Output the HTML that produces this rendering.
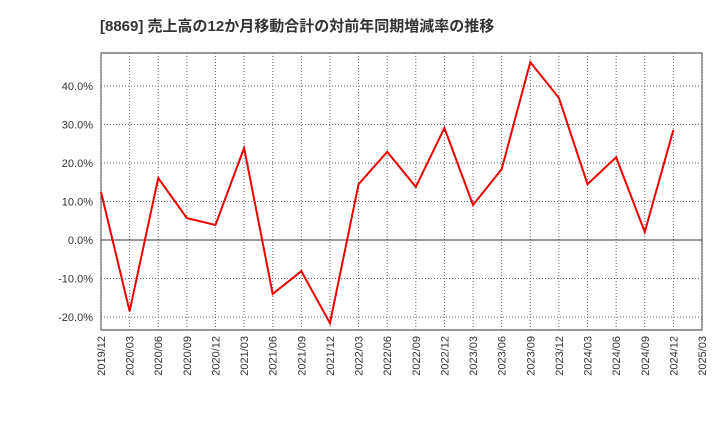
<!DOCTYPE html>
<html><head><meta charset="utf-8"><style>
body{margin:0;background:#fff;width:720px;height:440px;overflow:hidden}
svg text{font-family:"Liberation Sans","Noto Sans CJK JP",sans-serif;fill:#333}
</style></head><body>
<svg id="chart" width="720" height="440">
<text x="100" y="31" font-size="15" font-weight="bold">[8869]  売上高の12か月移動合計の対前年同期増減率の推移</text>
<rect x="101" y="53" width="601" height="277" fill="#fff" stroke="#333"/>
<g id="grid"></g><g id="axes"></g>
<path id="line" fill="none" stroke="#e00" stroke-width="2"/>
</svg>
<script>
const categories=["2019/12","2020/03","2020/06","2020/09","2020/12","2021/03","2021/06","2021/09","2021/12","2022/03","2022/06","2022/09","2022/12","2023/03","2023/06","2023/09","2023/12","2024/03","2024/06","2024/09","2024/12","2025/03"];
const values=[12.5,-18.5,16.1,5.7,3.9,23.9,-14.0,-8.1,-21.6,14.5,22.9,13.8,29.1,9.1,18.4,46.2,36.9,14.5,21.5,2.1,28.6];
const yTicks=[-20,-10,0,10,20,30,40];
const x0=101,x1=702,yTop=53,yBot=330;
const xs=i=>x0+i*(x1-x0)/(categories.length-1);
const ys=v=>240-v*3.85;
const ns="http://www.w3.org/2000/svg";
const g=document.getElementById('grid'),ax=document.getElementById('axes');
function mk(tag,at,p){const e=document.createElementNS(ns,tag);for(const k in at)e.setAttribute(k,at[k]);p.appendChild(e);return e;}
categories.forEach((c,i)=>{
 const x=xs(i);
 const l=mk('line',{x1:x,x2:x,y1:yTop,y2:yBot,stroke:'#666','stroke-dasharray':'1,2','stroke-width':1},g);
 
 
 const t=mk('text',{x:0,y:0,'font-size':11,'text-anchor':'end',transform:`translate(${x+4},${yBot+6}) rotate(-90)`},ax);
 t.textContent=c;
 
 
});
yTicks.forEach(v=>{
 const y=ys(v);
 const at={x1:x0,x2:x1,y1:y,y2:y,stroke:v===0?'#333':'#666','stroke-width':1};
 if(v!==0)at['stroke-dasharray']='1,2';
 const l=mk('line',at,g);
 
 
 const t=mk('text',{x:x0-8,y:y+4,'font-size':11,'text-anchor':'end'},ax);
 t.textContent=v.toFixed(1)+'%';
 
 
});
document.getElementById('line').setAttribute('d',values.map((v,i)=>(i?'L':'M')+xs(i)+','+ys(v)).join(''));
</script>
</body></html>
